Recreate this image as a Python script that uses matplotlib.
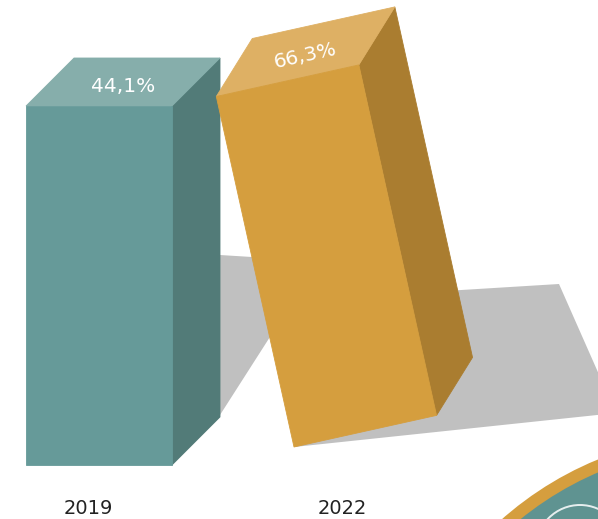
import numpy as np
import matplotlib
matplotlib.use("Agg")
import matplotlib.pyplot as plt
from matplotlib.patches import Polygon, Circle

# chart data
years = ["2019", "2022"]
values = [44.1, 66.3]
labels = ["44,1%", "66,3%"]

# bar styling
face_colors = [
    {"front": "#669a99", "top": "#86aeab", "side": "#527b78"},
    {"front": "#d59e3e", "top": "#deb064", "side": "#aa7d30"},
]
shadow_color = "#c0c0c0"

W, H = 598, 519
PX_PER_UNIT = 359 / 44.1   # bar height in pixels per percentage point
BAR_W = 146
BAR_LEN = values[0] * PX_PER_UNIT  # the 2022 bar is the same block, toppling over


def box_faces(p, u, v, d):
    p, u, v, d = map(np.asarray, (p, u, v, d))
    front = [p, p + u, p + u + v, p + v]
    top = [p + v, p + u + v, p + u + v + d, p + v + d]
    side = [p + u, p + u + d, p + u + v + d, p + u + v]
    return front, top, side


def draw_box(ax, faces, colors):
    front, top, side = faces
    for pts, key in ((side, "side"), (top, "top"), (front, "front")):
        ax.add_patch(Polygon(pts, closed=True, fc=colors[key], ec=colors[key], lw=0.6))


fig = plt.figure(figsize=(W / 100, H / 100), dpi=100)
ax = fig.add_axes([0, 0, 1, 1])
ax.set_xlim(0, W)
ax.set_ylim(H, 0)
ax.axis("off")

# 2019: upright bar
h0 = values[0] * PX_PER_UNIT
p0 = (26, 465)
faces0 = box_faces(p0, (BAR_W, 0), (0, -h0), (48, -48))

# 2022: tilted bar
tilt = np.radians(12.5)
p1 = (294, 447)
u1 = (BAR_W * np.cos(tilt), -BAR_W * np.sin(tilt))
v1 = (-BAR_LEN * np.sin(tilt), -BAR_LEN * np.cos(tilt))
faces1 = box_faces(p1, u1, v1, (36, -58))

# shadows on the floor
sh0 = [(172, 252), (300, 260), (300, 290), (220, 415), (172, 415)]
sh1 = [p1, (380, 295), (559, 284), (616, 413)]
for sh in (sh0, sh1):
    ax.add_patch(Polygon(sh, closed=True, fc=shadow_color, ec="none"))

draw_box(ax, faces0, face_colors[0])
draw_box(ax, faces1, face_colors[1])

# value labels on the top faces
for faces, lab, rot in ((faces0, labels[0], 0), (faces1, labels[1], np.degrees(tilt))):
    top = np.array(faces[1])
    cx, cy = top.mean(axis=0)
    ax.text(cx, cy + 4, lab, color="white", fontsize=14.5, family="DejaVu Sans",
            ha="center", va="center", rotation=rot, rotation_mode="anchor")

# year labels
x_years = [88, 342]
for x, yr in zip(x_years, years):
    ax.text(x, 508, yr, color="#222222", fontsize=14, family="DejaVu Sans",
            ha="center", va="center")

# decorative emblem in the bottom-right corner
ax.add_patch(Circle((727, 774), 340, fc="#d59e3e", ec="none"))
ax.add_patch(Circle((727, 774), 328, fc="#5f9391", ec="none"))
ax.add_patch(Circle((580, 549), 44, fc="none", ec="white", lw=1.4, alpha=0.85))

fig.savefig("out.png", dpi=100)
